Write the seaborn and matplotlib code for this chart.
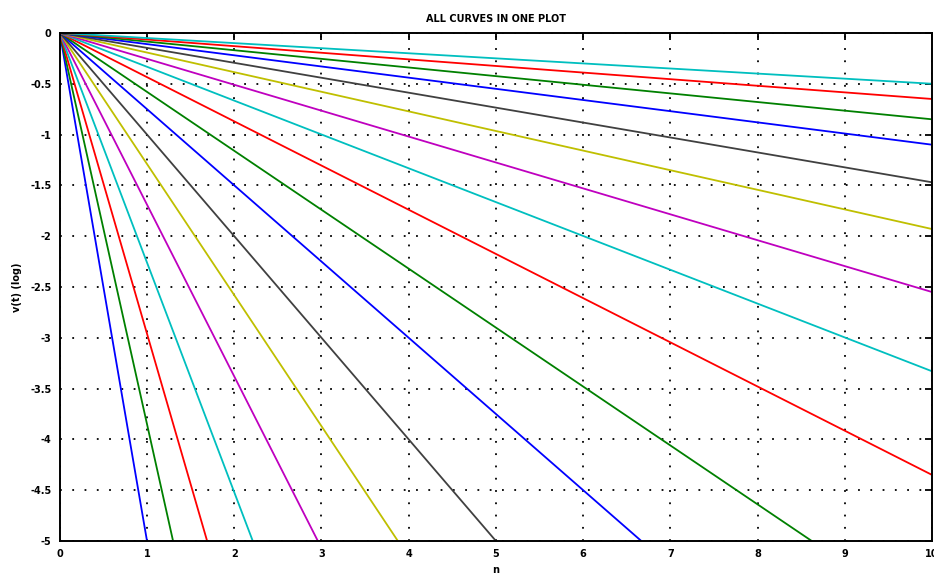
import matplotlib

matplotlib.use("Agg")

import matplotlib.pyplot as plt
import pandas as pd
import seaborn as sns


# value of each curve at n = 0 and n = 10 (lines run straight from the origin)
N_POINTS = [0, 10]
END_VALUES = [
    -50.0, -38.5, -29.6, -22.6, -16.9, -12.9, -10.0, -7.5, -5.8,
    -4.35, -3.33, -2.55, -1.93, -1.47, -1.10, -0.85, -0.65, -0.50,
]
MATLAB_COLORS = ["#0000ff", "#008000", "#ff0000", "#00bfbf", "#bf00bf", "#bfbf00", "#404040"]
X_TICKS = list(range(0, 11))
Y_TICKS = [0, -0.5, -1, -1.5, -2, -2.5, -3, -3.5, -4, -4.5, -5]


def build_frame() -> pd.DataFrame:
    rows = []
    for idx, end in enumerate(END_VALUES):
        for n in N_POINTS:
            rows.append({"curve": idx, "n": n, "v": end * n / N_POINTS[-1]})
    return pd.DataFrame(rows)


def main() -> None:
    sns.set_theme(style="white")
    plt.rcParams["font.family"] = "DejaVu Sans"
    plt.rcParams["text.color"] = "black"
    plt.rcParams["axes.labelcolor"] = "black"

    df = build_frame()
    palette = [MATLAB_COLORS[i % len(MATLAB_COLORS)] for i in range(len(END_VALUES))]

    fig = plt.figure(figsize=(9.34, 5.78), dpi=100)
    ax = fig.add_axes([0.064, 0.064, 0.934, 0.879])
    sns.lineplot(data=df, x="n", y="v", hue="curve", palette=palette, legend=False,
                 linewidth=1.3, ax=ax, sort=False)

    ax.set_xlim(0, 10)
    ax.set_ylim(-5, 0)
    ax.set_xticks(X_TICKS)
    ax.set_yticks(Y_TICKS)
    ax.set_xticklabels([str(t) for t in X_TICKS], fontweight="bold")
    ax.set_yticklabels([f"{t:g}" for t in Y_TICKS], fontweight="bold")
    ax.tick_params(direction="in", length=5, width=1.3, labelsize=7, colors="black",
                   top=True, right=True, pad=6)
    ax.grid(True, linestyle=(0, (1, 5.8)), linewidth=1.3, color="black")
    for spine in ax.spines.values():
        spine.set_color("black")
        spine.set_linewidth(1.4)

    ax.set_title("ALL CURVES IN ONE PLOT", fontsize=7, fontweight="bold", pad=8)
    ax.set_xlabel("n", fontsize=7, fontweight="bold", labelpad=4)
    ax.set_ylabel("v(t) (log)", fontsize=7, fontweight="bold", labelpad=6)

    fig.savefig("out.png", dpi=100)


if __name__ == "__main__":
    main()
